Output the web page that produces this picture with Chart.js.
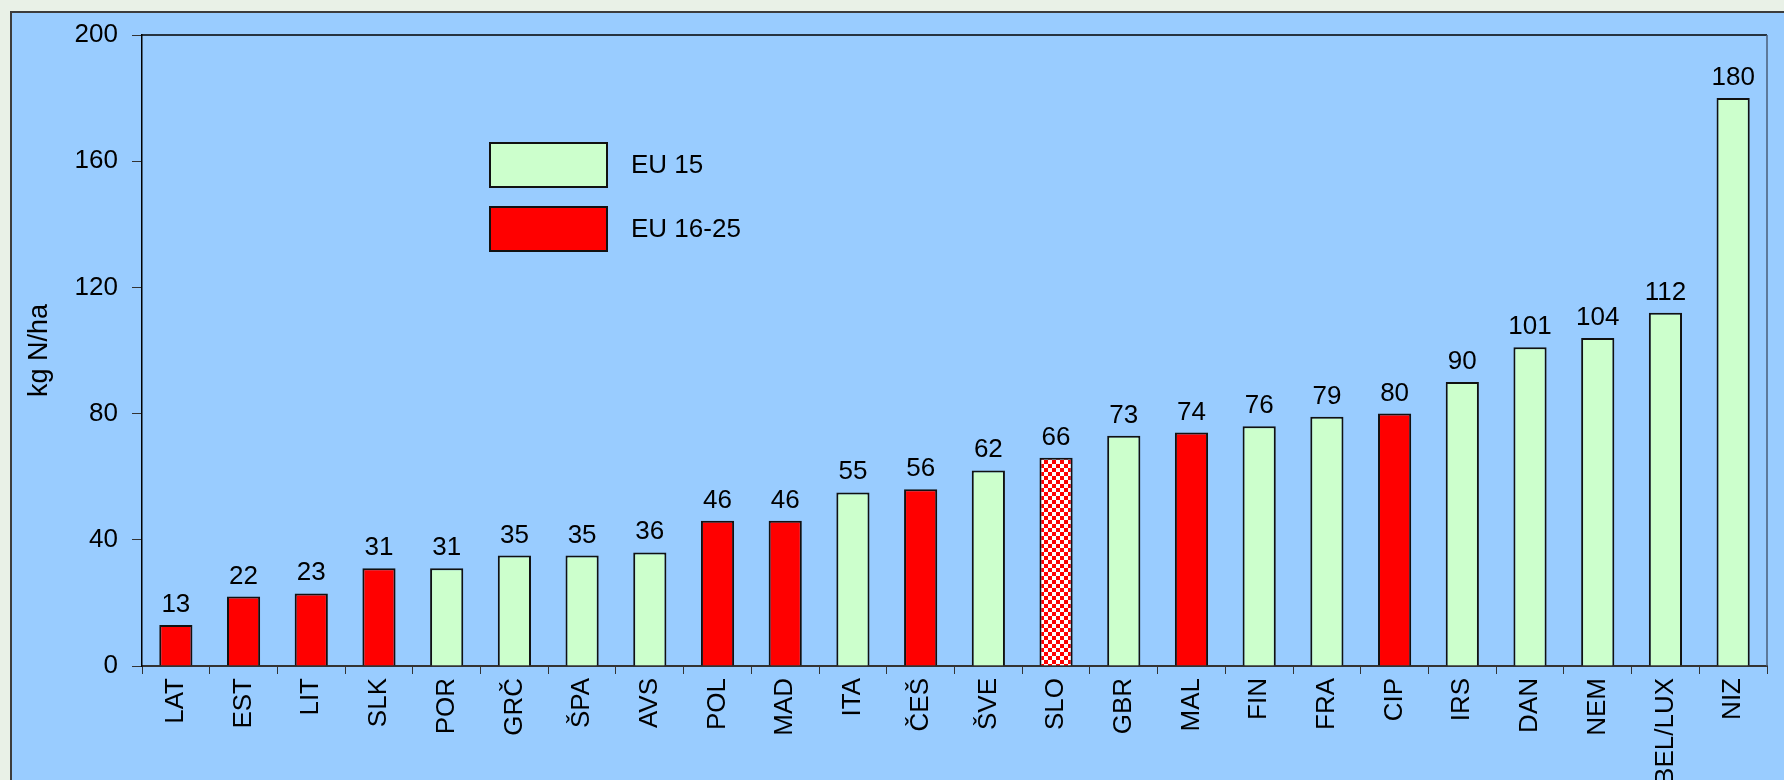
<!DOCTYPE html>
<html>
<head>
<meta charset="utf-8">
<script src="https://cdn.jsdelivr.net/npm/chart.js@4/dist/chart.umd.min.js"></script>
<style>
  html, body { margin: 0; padding: 0; }
  body { width: 1784px; height: 780px; overflow: hidden; background: #e9f1e7; position: relative; }
  #panel {
    position: absolute; left: 10px; top: 11px; width: 1800px; height: 800px;
    background: #99ccff; border-top: 2px solid #3c3c3c; border-left: 2px solid #3c3c3c;
  }
  #chart { position: absolute; left: 0; top: 0; }
</style>
</head>
<body>
<div id="panel"></div>
<canvas id="chart" width="1784" height="780"></canvas>
<script>
const categories = ["LAT", "EST", "LIT", "SLK", "POR", "GRČ", "ŠPA", "AVS", "POL", "MAD", "ITA", "ČEŠ",
  "ŠVE", "SLO", "GBR", "MAL", "FIN", "FRA", "CIP", "IRS", "DAN", "NEM", "BEL/LUX", "NIZ"];
const values = [13, 22, 23, 31, 31, 35, 35, 36, 46, 46, 55, 56,
  62, 66, 73, 74, 76, 79, 80, 90, 101, 104, 112, 180];
// "old" = EU 15, "new" = EU 16-25, "slo" = Slovenia (checkered)
const groups = ["new", "new", "new", "new", "old", "old", "old", "old", "new", "new", "old", "new",
  "old", "slo", "old", "new", "old", "old", "new", "old", "old", "old", "old", "old"];
const yTicks = [0, 40, 80, 120, 160, 200];

const FONT = "'Liberation Sans', Arial, sans-serif";
const GREEN = "#ccffcc";
const RED = "#ff0000";

// checkered red/white fill for SLO
const makeChecker = () => {
  const c = document.createElement("canvas");
  c.width = 8; c.height = 8;
  const x = c.getContext("2d");
  x.fillStyle = "#ffffff";
  x.fillRect(0, 0, 8, 8);
  x.fillStyle = RED;
  x.fillRect(0, 0, 4, 4);
  x.fillRect(4, 4, 4, 4);
  return x.createPattern(c, "repeat");
};
const checker = makeChecker();

const eu15 = values.map((v, i) => groups[i] === "old" ? v : null);
const eu1625 = values.map((v, i) => groups[i] !== "old" ? v : null);
const eu1625Colors = groups.map(g => g === "slo" ? checker : RED);

const valueLabels = {
  id: "valueLabels",
  afterDatasetsDraw(chart) {
    const ctx = chart.ctx;
    ctx.save();
    ctx.font = "26px " + FONT;
    ctx.fillStyle = "#000";
    ctx.textAlign = "center";
    ctx.textBaseline = "alphabetic";
    chart.data.datasets.forEach((ds, di) => {
      chart.getDatasetMeta(di).data.forEach((bar, i) => {
        if (ds.data[i] == null) return;
        ctx.fillText(String(Math.round(ds.data[i])), bar.x, bar.y - 13);
      });
    });
    ctx.restore();
  }
};

const frame = {
  id: "frame",
  beforeDatasetsDraw(chart) {
    const {ctx, chartArea: a} = chart;
    ctx.save();
    ctx.lineWidth = 1.5;
    ctx.strokeStyle = "#000";
    ctx.beginPath();
    ctx.moveTo(a.left, a.top);
    ctx.lineTo(a.right, a.top);
    ctx.stroke();
    ctx.strokeStyle = "#4a5e78";
    ctx.beginPath();
    ctx.moveTo(a.right, a.top);
    ctx.lineTo(a.right, a.bottom);
    ctx.stroke();
    ctx.restore();
  }
};

const boxLegend = {
  id: "boxLegend",
  afterDraw(chart) {
    const {ctx, chartArea: a} = chart;
    ctx.save();
    ctx.font = "26px " + FONT;
    ctx.textBaseline = "middle";
    chart.data.datasets.forEach((ds, di) => {
      const x = a.left + 348;
      const y = a.top + 108 + di * 64;
      ctx.fillStyle = ds.legendColor;
      ctx.fillRect(x, y, 117, 44);
      ctx.lineWidth = 2;
      ctx.strokeStyle = "#111";
      ctx.strokeRect(x, y, 117, 44);
      ctx.fillStyle = "#000";
      ctx.fillText(ds.label, x + 141, y + 23);
    });
    ctx.restore();
  }
};

new Chart(document.querySelector("#chart"), {
  type: "bar",
  data: {
    labels: categories,
    datasets: [
      {
        label: "EU 15",
        data: eu15,
        backgroundColor: GREEN,
        legendColor: GREEN,
        borderColor: "#111",
        borderWidth: 2,
        grouped: false,
        barPercentage: 0.49,
        categoryPercentage: 1
      },
      {
        label: "EU 16-25",
        data: eu1625,
        backgroundColor: eu1625Colors,
        legendColor: RED,
        borderColor: "#111",
        borderWidth: 2,
        grouped: false,
        barPercentage: 0.49,
        categoryPercentage: 1
      }
    ]
  },
  options: {
    responsive: false,
    animation: false,
    layout: { padding: { top: 35, right: 17, left: 0, bottom: 0 } },
    plugins: {
      legend: { display: false },
      tooltip: { enabled: false }
    },
    scales: {
      x: {
        grid: { drawOnChartArea: false, tickLength: 8, color: "#333", offset: true },
        border: { color: "#333", width: 2 },
        ticks: {
          autoSkip: false, minRotation: 90, maxRotation: 90, padding: 4,
          color: "#000", font: { family: FONT, size: 26 }
        },
        afterFit: s => { s.height = 114; }
      },
      y: {
        min: 0,
        max: 200,
        afterBuildTicks: s => { s.ticks = yTicks.map(v => ({ value: v })); },
        grid: { drawOnChartArea: false, tickLength: 10, color: "#333" },
        border: { color: "#000", width: 1.5 },
        ticks: { padding: 14, color: "#000", font: { family: FONT, size: 26 } },
        title: {
          display: true, text: "kg N/ha", color: "#000",
          font: { family: FONT, size: 27 }, padding: { top: 23, bottom: 0 }
        },
        afterFit: s => { s.width = 142; }
      }
    }
  },
  plugins: [frame, valueLabels, boxLegend]
});
</script>
</body>
</html>
